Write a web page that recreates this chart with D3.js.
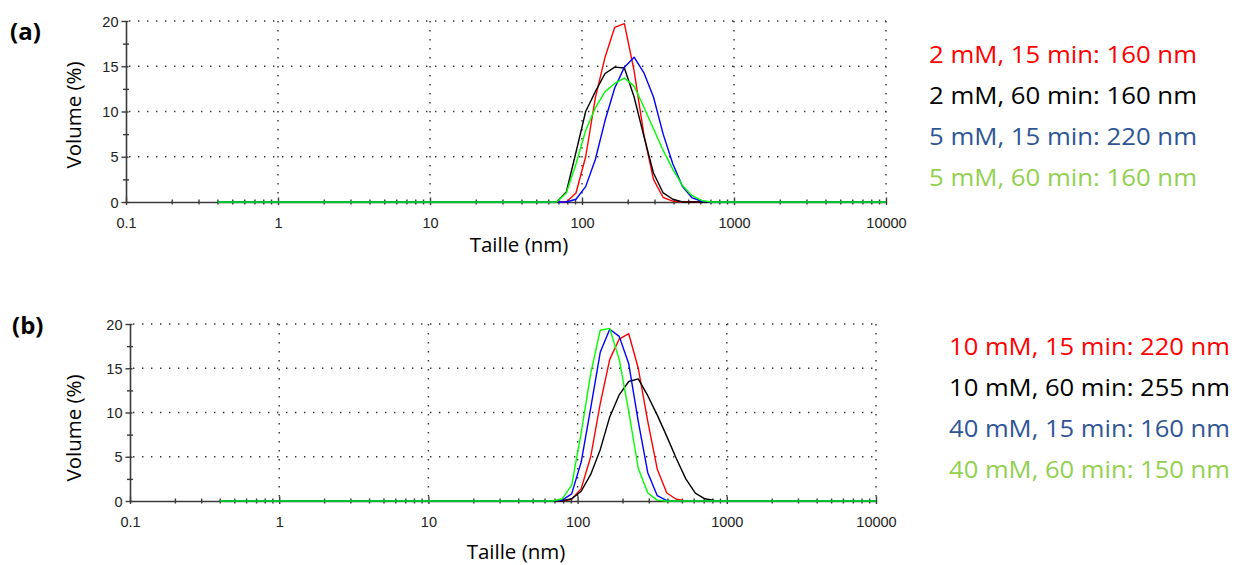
<!DOCTYPE html>
<html>
<head>
<meta charset="utf-8">
<script src="https://cdn.jsdelivr.net/npm/d3@7"></script>
<style>
  html, body { margin: 0; padding: 0; background: #ffffff; }
  svg { display: block; }
</style>
</head>
<body>
<svg id="chart" width="1236" height="565"></svg>
<script>
// ---------------- DATA ----------------
// Size classes (nm) of the DLS size distribution
const sizes = [0.4, 0.4632, 0.5365, 0.6213, 0.7195, 0.8332, 0.9649, 1.117, 1.294, 1.499,
  1.736, 2.010, 2.328, 2.696, 3.122, 3.615, 4.187, 4.849, 5.615, 6.503,
  7.531, 8.721, 10.10, 11.70, 13.54, 15.69, 18.17, 21.04, 24.36, 28.21,
  32.67, 37.84, 43.82, 50.75, 58.77, 68.06, 78.82, 91.28, 105.7, 122.4,
  141.8, 164.2, 190.1, 220.2, 255.0, 295.3, 342.0, 396.1, 458.7, 531.2,
  615.1, 712.4, 825.0, 955.4, 1106, 1281, 1484, 1718, 1990, 2305,
  2669, 3091, 3580, 4145, 4801, 5560, 6439, 7456, 8635, 10000];

// Panel (a) volume (%) per size class
const volA_2mM_15 = [0,0,0,0,0,0,0,0,0,0, 0,0,0,0,0,0,0,0,0,0, 0,0,0,0,0,0,0,0,0,0, 0,0,0,0,
  0, 0, 0, 1.0, 5.0, 11.5, 16.0, 19.3, 19.7, 14.5, 7.5, 2.5, 0.5, 0.1, 0, 0, 0, 0, 0, 0,
  0,0,0,0,0,0,0,0,0,0,0,0,0,0,0,0];
const volA_2mM_60 = [0,0,0,0,0,0,0,0,0,0, 0,0,0,0,0,0,0,0,0,0, 0,0,0,0,0,0,0,0,0,0, 0,0,0,0,
  0, 0, 1.1, 5.5, 10.0, 12.2, 14.2, 14.9, 14.8, 11.6, 7.3, 3.2, 1.0, 0.3, 0, 0, 0, 0, 0, 0,
  0,0,0,0,0,0,0,0,0,0,0,0,0,0,0,0];
const volA_5mM_15 = [0,0,0,0,0,0,0,0,0,0, 0,0,0,0,0,0,0,0,0,0, 0,0,0,0,0,0,0,0,0,0, 0,0,0,0,
  0, 0, 0, 0.3, 1.7, 4.7, 9.0, 12.6, 14.9, 16.0, 14.3, 11.6, 7.5, 4.2, 1.7, 0.45, 0.08, 0, 0, 0,
  0,0,0,0,0,0,0,0,0,0,0,0,0,0,0,0];
const volA_5mM_60 = [0,0,0,0,0,0,0,0,0,0, 0,0,0,0,0,0,0,0,0,0, 0,0,0,0,0,0,0,0,0,0, 0,0,0,0,
  0, 0, 1.0, 4.2, 7.9, 10.4, 12.2, 13.1, 13.7, 12.8, 10.5, 8.1, 5.7, 3.6, 1.8, 0.7, 0.15, 0, 0, 0,
  0,0,0,0,0,0,0,0,0,0,0,0,0,0,0,0];

// Panel (b) volume (%) per size class
const volB_10mM_15 = [0,0,0,0,0,0,0,0,0,0, 0,0,0,0,0,0,0,0,0,0, 0,0,0,0,0,0,0,0,0,0, 0,0,0,0,
  0, 0, 0, 0.2, 1.4, 5.0, 11.0, 16.0, 18.3, 18.9, 15.0, 9.0, 3.6, 0.9, 0.2, 0, 0, 0, 0, 0,
  0,0,0,0,0,0,0,0,0,0,0,0,0,0,0,0];
const volB_10mM_60 = [0,0,0,0,0,0,0,0,0,0, 0,0,0,0,0,0,0,0,0,0, 0,0,0,0,0,0,0,0,0,0, 0,0,0,0,
  0, 0, 0, 0.25, 1.1, 3.0, 5.8, 9.5, 12.0, 13.5, 13.8, 11.9, 9.7, 7.3, 4.8, 2.5, 0.9, 0.25, 0.05, 0,
  0,0,0,0,0,0,0,0,0,0,0,0,0,0,0,0];
const volB_40mM_15 = [0,0,0,0,0,0,0,0,0,0, 0,0,0,0,0,0,0,0,0,0, 0,0,0,0,0,0,0,0,0,0, 0,0,0,0,
  0, 0, 0.1, 0.8, 4.4, 10.5, 16.8, 19.4, 18.6, 15.5, 9.0, 3.2, 0.6, 0.05, 0, 0, 0, 0, 0, 0,
  0,0,0,0,0,0,0,0,0,0,0,0,0,0,0,0];
const volB_40mM_60 = [0,0,0,0,0,0,0,0,0,0, 0,0,0,0,0,0,0,0,0,0, 0,0,0,0,0,0,0,0,0,0, 0,0,0,0,
  0, 0, 0.25, 1.8, 7.7, 14.4, 19.3, 19.5, 16.0, 10.1, 3.7, 0.9, 0.1, 0, 0, 0, 0, 0, 0, 0,
  0,0,0,0,0,0,0,0,0,0,0,0,0,0,0,0];

const legendA = ["2 mM, 15 min: 160 nm", "2 mM, 60 min: 160 nm", "5 mM, 15 min: 220 nm", "5 mM, 60 min: 160 nm"];
const legendB = ["10 mM, 15 min: 220 nm", "10 mM, 60 min: 255 nm", "40 mM, 15 min: 160 nm", "40 mM, 60 min: 150 nm"];

const xTickValues = [0.1, 1, 10, 100, 1000, 10000];
const xTickLabels = ["0.1", "1", "10", "100", "1000", "10000"];
const yTickValues = [0, 5, 10, 15, 20];
const yMinorValues = [2.5, 7.5, 12.5, 17.5];
const xMinorValues = [0.2,0.3,0.4,0.5,0.6,0.7,0.8,0.9, 2,3,4,5,6,7,8,9, 20,30,40,50,60,70,80,90,
  200,300,400,500,600,700,800,900, 2000,3000,4000,5000,6000,7000,8000,9000];

const xTitle = "Taille (nm)";
const yTitle = "Volume (%)";

// ---------------- STYLE ----------------
const lineColors = ["#ff0000", "#000000", "#0000ff", "#00ff00"];
const legendColors = ["#ff0000", "#000000", "#2f5597", "#92d050"];

const panels = [
  { tag: "(a)", series: [volA_2mM_15, volA_2mM_60, volA_5mM_15, volA_5mM_60], legend: legendA,
    x0: 126, x1: 886, yb: 202, yt: 21, tagX: 10, tagY: 40, ytX: 81, ytY: 115, xtY: 252, xtOff: 13,
    legX: 929, legY: [63, 104, 145, 186], legW: 268 },
  { tag: "(b)", series: [volB_10mM_15, volB_10mM_60, volB_40mM_15, volB_40mM_60], legend: legendB,
    x0: 130, x1: 876, yb: 501, yt: 324, tagX: 12, tagY: 334, ytX: 81, ytY: 428, xtY: 559, xtOff: 13,
    legX: 949, legY: [355, 396, 437, 478], legW: 281 }
];

const svg = d3.select("#chart");
svg.append("rect").attr("width", 1236).attr("height", 565).attr("fill", "#fff");

const axisColor = "#3a3a3a";
const tickFont = "'Liberation Sans', Arial, sans-serif";
const textFont = "'Open Sans', 'Noto Sans', sans-serif";

panels.forEach(p => {
  const x = d3.scaleLog().domain([0.1, 10000]).range([p.x0, p.x1]);
  const y = d3.scaleLinear().domain([0, 20]).range([p.yb, p.yt]);
  const g = svg.append("g");

  // dotted grid
  const grid = g.append("g").attr("stroke", "#333").attr("stroke-width", 1.4)
    .attr("stroke-dasharray", "1.4 7.6").attr("fill", "none");
  grid.selectAll("line.h").data(yTickValues.filter(v => v > 0)).join("line")
    .attr("x1", p.x0 + 3).attr("x2", p.x1).attr("y1", d => y(d)).attr("y2", d => y(d));
  grid.selectAll("line.v").data(xTickValues.filter(v => v > 0.1)).join("line")
    .attr("x1", d => x(d)).attr("x2", d => x(d)).attr("y1", p.yt).attr("y2", p.yb - 3);

  // x axis
  const xAxisG = g.append("g").attr("transform", `translate(0,${p.yb})`)
    .call(d3.axisBottom(x).tickValues(xTickValues).tickFormat((d, i) => xTickLabels[i]).tickSizeOuter(0));
  xAxisG.select(".domain").attr("stroke", axisColor).attr("stroke-width", 1.6);
  xAxisG.selectAll(".tick line").attr("stroke", axisColor).attr("stroke-width", 1.4).attr("y1", -4.5).attr("y2", 3);
  xAxisG.selectAll(".tick text").attr("y", 25.5).attr("dy", 0)
    .attr("font-family", tickFont).attr("font-size", 14.5).attr("fill", "#222");

  const xMinorG = g.append("g").attr("transform", `translate(0,${p.yb})`)
    .call(d3.axisBottom(x).tickValues(xMinorValues).tickFormat("").tickSizeOuter(0));
  xMinorG.select(".domain").remove();
  xMinorG.selectAll(".tick line").attr("stroke", axisColor).attr("stroke-width", 1.4).attr("y1", -2.5).attr("y2", 2.5);

  // y axis
  const yAxisG = g.append("g").attr("transform", `translate(${p.x0},0)`)
    .call(d3.axisLeft(y).tickValues(yTickValues).tickSizeOuter(0));
  yAxisG.select(".domain").attr("stroke", axisColor).attr("stroke-width", 1.6);
  yAxisG.selectAll(".tick line").attr("stroke", axisColor).attr("stroke-width", 1.4).attr("x1", 2.5).attr("x2", -4.5);
  yAxisG.selectAll(".tick text").attr("x", -7.5).attr("dy", "0.36em")
    .attr("font-family", tickFont).attr("font-size", 14.5).attr("fill", "#222");

  const yMinorG = g.append("g").attr("transform", `translate(${p.x0},0)`)
    .call(d3.axisLeft(y).tickValues(yMinorValues).tickFormat("").tickSizeOuter(0));
  yMinorG.select(".domain").remove();
  yMinorG.selectAll(".tick line").attr("stroke", axisColor).attr("stroke-width", 1.4).attr("x1", 3).attr("x2", -3);

  // curves
  const line = d3.line().x((d, i) => x(sizes[i])).y(d => y(d)).curve(d3.curveLinear);
  p.series.forEach((s, k) => {
    g.append("path").datum(s).attr("d", line).attr("fill", "none")
      .attr("stroke", lineColors[k]).attr("stroke-width", 1.4).attr("stroke-linejoin", "round");
  });

  // titles
  g.append("text").text(xTitle).attr("x", (p.x0 + p.x1) / 2 + p.xtOff).attr("y", p.xtY)
    .attr("text-anchor", "middle").attr("font-family", textFont).attr("font-size", 20.5).attr("fill", "#000");
  g.append("text").text(yTitle).attr("transform", `translate(${p.ytX},${p.ytY}) rotate(-90)`)
    .attr("text-anchor", "middle").attr("font-family", textFont).attr("font-size", 20.5).attr("fill", "#000");

  // panel tag
  g.append("text").text(p.tag).attr("x", p.tagX).attr("y", p.tagY)
    .attr("font-family", textFont).attr("font-weight", "bold").attr("font-size", 24).attr("fill", "#000");

  // legend
  p.legend.forEach((t, k) => {
    g.append("text").text(t).attr("x", p.legX).attr("y", p.legY[k])
      .attr("font-family", textFont).attr("font-size", 23.5).attr("fill", legendColors[k])
      .attr("textLength", p.legW).attr("lengthAdjust", "spacingAndGlyphs");
  });
});
</script>
</body>
</html>
